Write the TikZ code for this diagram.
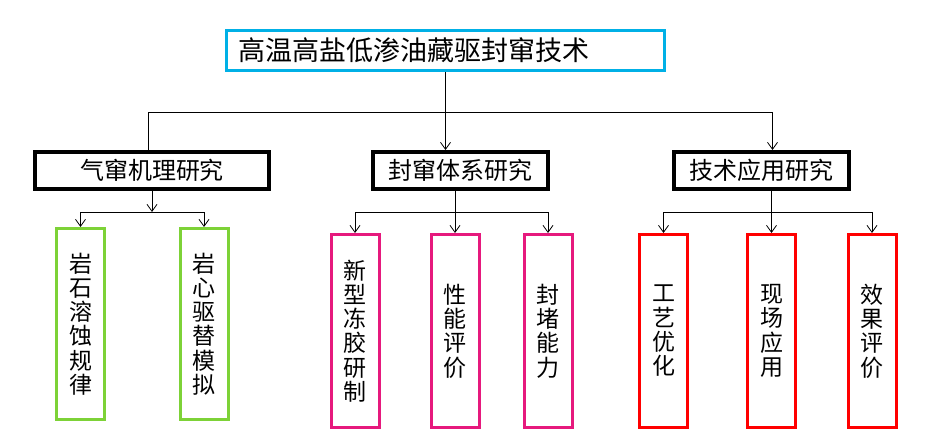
\documentclass[tikz,border=0pt]{standalone}
\usepackage{fontspec}
\setmainfont{Noto Sans CJK SC}
\usetikzlibrary{arrows.meta}
\definecolor{topblue}{RGB}{0,176,230}
\definecolor{leafgreen}{RGB}{125,210,55}
\definecolor{leafpink}{RGB}{230,25,125}
\definecolor{leafred}{RGB}{255,0,0}
\tikzset{
  topbox/.style={draw=topblue, line width=3pt, minimum width=438pt, minimum height=40.5pt,
    text width=414pt, inner xsep=12pt, inner ysep=0pt, align=left, font=\fontsize{27}{30}\selectfont},
  midbox/.style={draw=black, line width=4pt, minimum height=37pt, inner sep=0pt,
    font=\fontsize{24}{26}\selectfont},
  leafbox/.style={draw=#1, line width=3pt, minimum width=48pt, inner sep=0pt, align=center,
    font=\fontsize{23}{24.3}\selectfont},
  link/.style={line width=0.8pt, -{Straight Barb[length=7pt,width=10pt]}},
  bus/.style={line width=0.8pt},
}
\begin{document}
\begin{tikzpicture}[x=1pt, y=-1pt]
  \useasboundingbox (0,0) rectangle (927,446);
  \node[topbox] (top) at (445.5,50.5) {高温高盐低渗油藏驱封窜技术};
  \node[midbox, minimum width=234pt] (left) at (152,170.5) {气窜机理研究};
  \node[midbox, minimum width=175pt] (mid) at (460.5,170.5) {封窜体系研究};
  \node[midbox, minimum width=175pt] (right) at (761.5,170.5) {技术应用研究};
  \foreach \name/\x/\y/\h/\col/\txt in {
    gA/80.5/324/191/leafgreen/{岩\\石\\溶\\蚀\\规\\律},
    gB/204/324/191/leafgreen/{岩\\心\\驱\\替\\模\\拟},
    pA/355/331/193/leafpink/{新\\型\\冻\\胶\\研\\制},
    pB/455/331/193/leafpink/{性\\能\\评\\价},
    pC/548/331/193/leafpink/{封\\堵\\能\\力},
    rA/663.5/331/193/leafred/{工\\艺\\优\\化},
    rB/771.5/331/193/leafred/{现\\场\\应\\用},
    rC/872/331/193/leafred/{效\\果\\评\\价}} {
    \node[leafbox=\col, minimum height=\h pt] (\name) at (\x,\y) {\txt};
  }
  % top level
  \path (top.south) ++(0,40.5) coordinate (topjoin);
  \draw[link] (top.south) -- (top.south |- mid.north);
  \draw[bus] (topjoin) -| ([xshift=-4pt]left.north);
  \draw[link] (topjoin) -| ([xshift=11pt]right.north);
  % second level
  \path (left.south) ++(0,21) coordinate (leftjoin);
  \draw[link] (left.south) -- (leftjoin);
  \draw[link] (leftjoin) -| (gA.north);
  \draw[link] (leftjoin) -| (gB.north);
  \path (pB.north |- mid.south) ++(0,21) coordinate (midjoin);
  \draw[link] (pB.north |- mid.south) -- (pB.north);
  \draw[link] (midjoin) -| (pA.north);
  \draw[link] (midjoin) -| (pC.north);
  \path (rB.north |- right.south) ++(0,21) coordinate (rightjoin);
  \draw[link] (rB.north |- right.south) -- (rB.north);
  \draw[link] (rightjoin) -| (rA.north);
  \draw[link] (rightjoin) -| (rC.north);
\end{tikzpicture}
\end{document}
